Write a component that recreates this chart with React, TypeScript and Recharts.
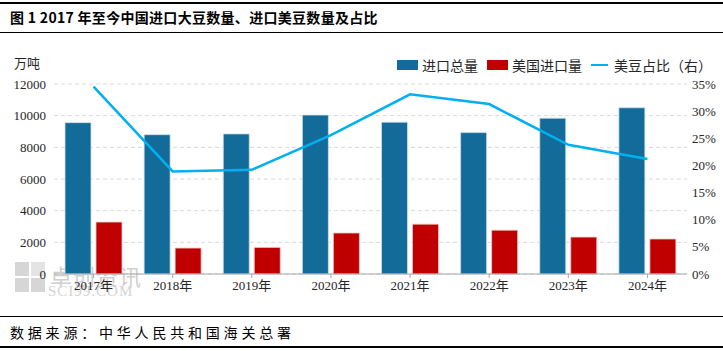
import React from 'react';
import {
  ComposedChart,
  Bar,
  Line,
  XAxis,
  YAxis,
  CartesianGrid,
  Legend,
} from 'recharts';

const years = ['2017年', '2018年', '2019年', '2020年', '2021年', '2022年', '2023年', '2024年'];
const totalImport = [9560, 8800, 8850, 10040, 9590, 8930, 9840, 10500];
const usImport = [3280, 1640, 1680, 2590, 3150, 2770, 2330, 2210];
const usShare = [0.345, 0.189, 0.192, 0.256, 0.331, 0.313, 0.238, 0.212];
const leftTicks = [0, 2000, 4000, 6000, 8000, 10000, 12000];
const rightTicks = [0, 0.05, 0.1, 0.15, 0.2, 0.25, 0.3, 0.35];

const data = years.map((name, i) => ({
  name,
  total: totalImport[i],
  us: usImport[i],
  share: usShare[i],
}));

const serif = '"Liberation Serif", "Noto Sans CJK SC", serif';
const cjk = '"Noto Sans CJK SC", sans-serif';

const BLUE = '#136b9a';
const RED = '#c00000';
const CYAN = '#00b0f0';

function renderLegend() {
  const item = { display: 'flex', alignItems: 'center', marginRight: 9, whiteSpace: 'nowrap' } as const;
  const text = { fontFamily: cjk, fontSize: 14, color: '#262626', whiteSpace: 'nowrap' } as const;
  return (
    <div style={{ display: 'flex', alignItems: 'center', whiteSpace: 'nowrap' }}>
      <div style={item}>
        <span style={{ width: 21, height: 10, background: BLUE, marginRight: 4 }} />
        <span style={text}>进口总量</span>
      </div>
      <div style={item}>
        <span style={{ width: 21, height: 10, background: RED, marginRight: 4 }} />
        <span style={text}>美国进口量</span>
      </div>
      <div style={item}>
        <span style={{ width: 17, height: 2, background: CYAN, marginRight: 6 }} />
        <span style={text}>美豆占比（右）</span>
      </div>
    </div>
  );
}

export default function App() {
  return (
    <div
      style={{
        position: 'absolute',
        left: 0,
        top: 0,
        width: 723,
        height: 351,
        background: '#fff',
        overflow: 'hidden',
      }}
    >
      {/* title block */}
      <div style={{ position: 'absolute', left: 0, top: 2, width: 723, height: 2, background: '#000' }} />
      <div
        style={{
          position: 'absolute',
          left: 10,
          top: 7,
          fontFamily: cjk,
          fontWeight: 'bold',
          fontSize: 14,
          letterSpacing: 0.3,
          color: '#000',
          whiteSpace: 'nowrap',
        }}
      >
        图 1 2017 年至今中国进口大豆数量、进口美豆数量及占比
      </div>
      <div style={{ position: 'absolute', left: 0, top: 32, width: 723, height: 1, background: '#000' }} />

      {/* watermark */}
      <div style={{ position: 'absolute', left: 15, top: 262 }}>
        <div style={{ display: 'grid', gridTemplateColumns: '14px 14px', gap: 2 }}>
          <span style={{ width: 14, height: 14, background: '#d6d6d6' }} />
          <span style={{ width: 14, height: 14, background: '#e4e4e4' }} />
          <span style={{ width: 14, height: 14, background: '#d6d6d6' }} />
          <span style={{ width: 14, height: 14, background: '#d6d6d6' }} />
        </div>
      </div>
      <div
        style={{
          position: 'absolute',
          left: 50,
          top: 259,
          fontFamily: cjk,
          fontSize: 22,
          color: '#cfcfcf',
          letterSpacing: 1,
        }}
      >
        卓创资讯
      </div>
      <div
        style={{
          position: 'absolute',
          left: 48,
          top: 283,
          fontFamily: serif,
          fontSize: 15,
          color: '#d4d4d4',
          letterSpacing: 1,
        }}
      >
        SCI99.COM
      </div>

      <div
        style={{
          position: 'absolute',
          left: 14,
          top: 53,
          fontFamily: cjk,
          fontSize: 13,
          color: '#262626',
        }}
      >
        万吨
      </div>

      <div style={{ position: 'absolute', left: 0, top: 0 }}>
        <ComposedChart
          width={723}
          height={310}
          data={data}
          margin={{ top: 84, right: 0, bottom: 0, left: 0 }}
          barGap={5}
          barSize={26}
        >
          <CartesianGrid vertical={false} stroke="#d9d9d9" strokeDasharray="4 3" yAxisId="left" />
          <XAxis
            dataKey="name"
            height={36}
            stroke="#a6a6a6"
            tickSize={4}
            tickMargin={3}
            tick={{ fill: '#262626', fontSize: 13, fontFamily: serif }}
          />
          <YAxis
            yAxisId="left"
            width={54}
            domain={[0, 12000]}
            ticks={leftTicks}
            axisLine={false}
            tickLine={false}
            tickSize={6}
            tickMargin={2}
            tick={{ fill: '#262626', fontSize: 13, fontFamily: serif }}
          />
          <YAxis
            yAxisId="right"
            orientation="right"
            width={36}
            domain={[0, 0.35]}
            ticks={rightTicks}
            axisLine={false}
            tickLine={false}
            tickSize={0}
            tickMargin={5}
            tickFormatter={(v: number) => `${Math.round(v * 100)}%`}
            tick={{ fill: '#262626', fontSize: 13, fontFamily: serif, textAnchor: 'start' }}
          />
          <Legend
            verticalAlign="middle"
            align="center"
            content={renderLegend}
            wrapperStyle={{ top: 55, left: 397, width: 326, whiteSpace: 'nowrap' }}
          />
          <Bar
            yAxisId="left"
            dataKey="total"
            name="进口总量"
            fill={BLUE}
            stroke="#cfe0ec"
            strokeWidth={0.8}
            isAnimationActive={false}
          />
          <Bar
            yAxisId="left"
            dataKey="us"
            name="美国进口量"
            fill={RED}
            stroke="#f0c8c8"
            strokeWidth={0.8}
            isAnimationActive={false}
          />
          <Line
            yAxisId="right"
            dataKey="share"
            name="美豆占比（右）"
            type="linear"
            stroke={CYAN}
            strokeWidth={2.5}
            dot={false}
            activeDot={false}
            isAnimationActive={false}
          />
        </ComposedChart>
      </div>

      {/* source block */}
      <div style={{ position: 'absolute', left: 0, top: 316, width: 723, height: 1, background: '#000' }} />
      <div
        style={{
          position: 'absolute',
          left: 10,
          top: 322,
          fontFamily: cjk,
          fontSize: 14,
          letterSpacing: 3.8,
          color: '#000',
          whiteSpace: 'nowrap',
        }}
      >
        数据来源：中华人民共和国海关总署
      </div>
      <div style={{ position: 'absolute', left: 0, top: 346, width: 723, height: 2, background: '#000' }} />
    </div>
  );
}
